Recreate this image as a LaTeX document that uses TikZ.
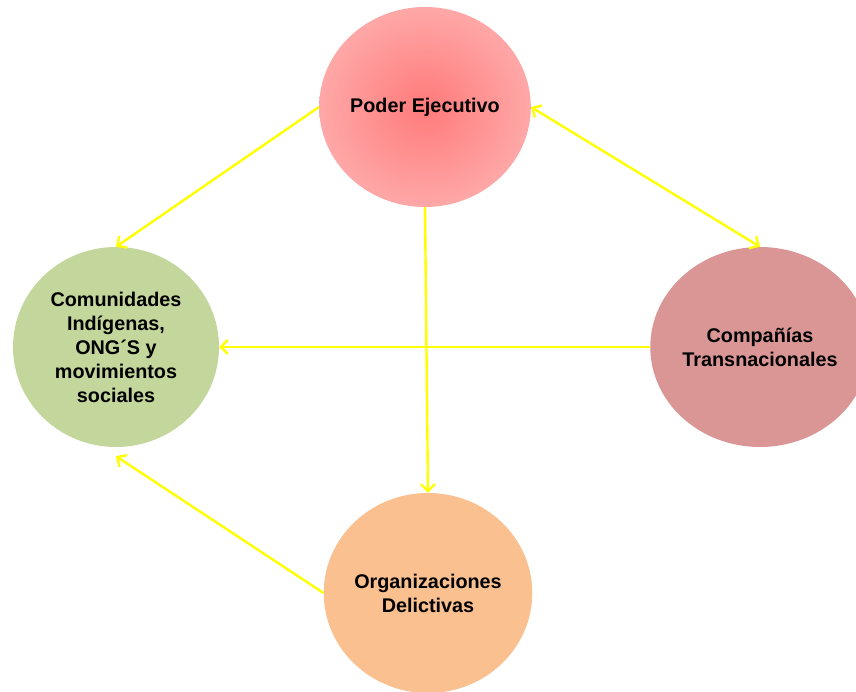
\documentclass[tikz,border=0pt]{standalone}
\usepackage{fontspec}
\setmainfont{Liberation Sans}
\usetikzlibrary{arrows.meta,shapes.geometric}
\definecolor{poderCenter}{RGB}{255,122,122}
\definecolor{poderEdge}{RGB}{255,190,190}
\definecolor{comunidadesFill}{RGB}{195,214,155}
\definecolor{companiasFill}{RGB}{217,150,148}
\definecolor{organizacionesFill}{RGB}{250,192,144}
\definecolor{linkYellow}{RGB}{255,255,0}
\pgfdeclareradialshading{poderShading}{\pgfpoint{0bp}{0bp}}{color(0bp)=(poderCenter); color(30bp)=(poderEdge!80!poderCenter); color(50bp)=(poderEdge)}
\newcommand{\circleWidth}{206pt}
\newcommand{\circleHeight}{200pt}
\newcommand{\labelFont}{\fontsize{19.8}{24}\selectfont\bfseries}

\begin{document}
\begin{tikzpicture}[x=1pt, y=-1pt,
    actor/.style={ellipse, minimum width=\circleWidth, minimum height=\circleHeight, inner sep=0pt, align=center, font=\labelFont},
    link/.style={draw=linkYellow, line width=2.4pt, -{Straight Barb[length=7pt,width=14pt]}}]
\useasboundingbox (0,0) rectangle (856,692);
% the four actors
\node[actor, shade, shading=poderShading] (poder) at (425,107) {Poder Ejecutivo};
\node[actor, fill=comunidadesFill] (comunidades) at (116,347) {Comunidades\\Indígenas,\\ONG´S y\\movimientos\\sociales};
\node[actor, fill=companiasFill] (companias) at (760,347) {Compañías\\Transnacionales};
\node[actor, fill=organizacionesFill] (organizaciones) at (428,593) {Organizaciones\\Delictivas};
% relations
\draw[link] (poder.west) -- (comunidades.north);
\draw[link, {Straight Barb[length=7pt,width=14pt]}-{Straight Barb[length=7pt,width=14pt]}] (poder.east) -- (companias.north);
\draw[link] (poder.south) -- (organizaciones.north);
\draw[link] (companias.west) -- (comunidades.east);
\draw[link] (organizaciones.west) -- ([yshift=-9pt]comunidades.south);
\end{tikzpicture}
\end{document}
